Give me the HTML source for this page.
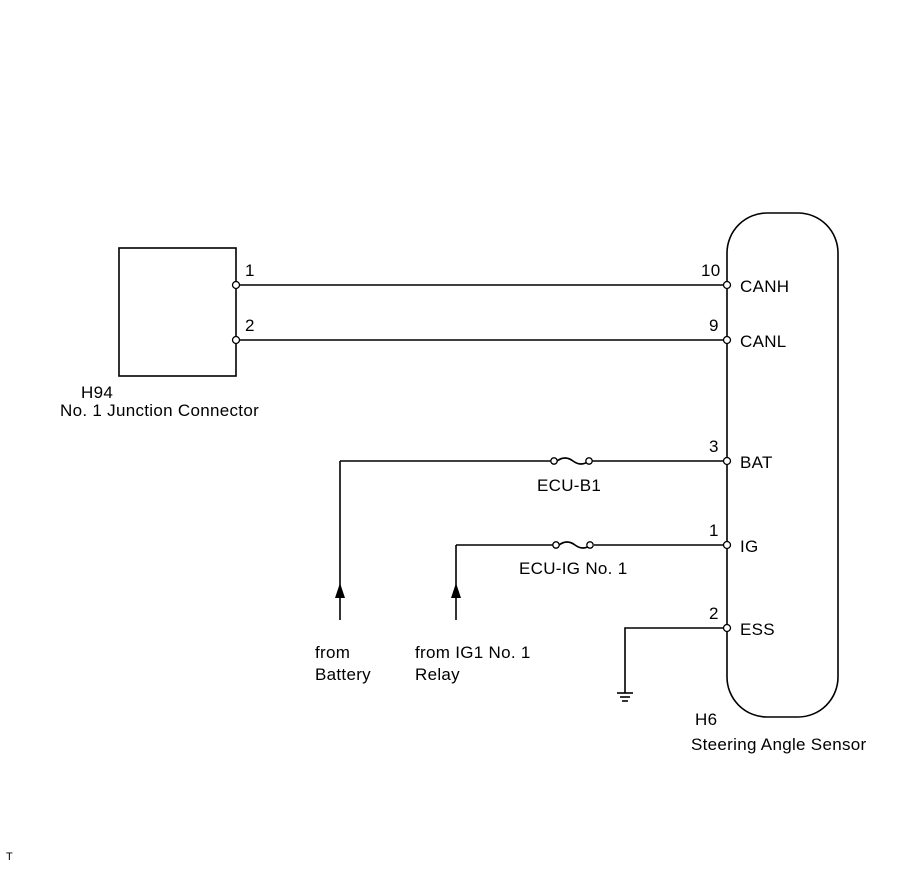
<!DOCTYPE html>
<html><head><style>
body{margin:0;background:#fff;}
svg text{font-family:"Liberation Sans",Arial,sans-serif;font-size:17px;letter-spacing:0.3px;fill:#000;}
</style></head><body>
<svg width="907" height="866" viewBox="0 0 907 866" xmlns="http://www.w3.org/2000/svg">
<g stroke="#000" stroke-width="1.6" fill="none">
<rect x="119" y="248" width="117" height="128"/>
<rect x="727" y="213" width="111" height="504" rx="40" ry="40"/>
<line x1="236" y1="285" x2="727" y2="285"/>
<line x1="236" y1="340" x2="727" y2="340"/>
<line x1="340" y1="461" x2="551" y2="461"/>
<line x1="592" y1="461" x2="727" y2="461"/>
<line x1="340" y1="461" x2="340" y2="620"/>
<path d="M557 461 q8 -6 16 0 t16 0"/>
<line x1="456" y1="545" x2="553" y2="545"/>
<line x1="594" y1="545" x2="727" y2="545"/>
<line x1="456" y1="545" x2="456" y2="620"/>
<path d="M559 545 q8 -6 16 0 t16 0"/>
<polyline points="727,628 625,628 625,693"/>
<line x1="617" y1="693" x2="633" y2="693"/>
<line x1="620" y1="697" x2="630" y2="697"/>
<line x1="622" y1="701" x2="628" y2="701"/>
</g>
<g fill="#000">
<polygon points="340,583 335,598 345,598"/>
<polygon points="456,583 451,598 461,598"/>
</g>
<g stroke="#000" stroke-width="1.3" fill="#fff">
<circle cx="236" cy="285" r="3.5"/><circle cx="236" cy="340" r="3.5"/>
<circle cx="727" cy="285" r="3.5"/><circle cx="727" cy="340" r="3.5"/>
<circle cx="727" cy="461" r="3.5"/><circle cx="727" cy="545" r="3.5"/>
<circle cx="727" cy="628" r="3.5"/>
<circle cx="554" cy="461" r="3.2"/><circle cx="589" cy="461" r="3.2"/>
<circle cx="556" cy="545" r="3.2"/><circle cx="590" cy="545" r="3.2"/>
</g>
<text x="245" y="276">1</text>
<text x="245" y="331">2</text>
<text x="81" y="398">H94</text>
<text x="60" y="416">No. 1 Junction Connector</text>
<text x="701" y="276">10</text>
<text x="709" y="331">9</text>
<text x="709" y="452">3</text>
<text x="709" y="536">1</text>
<text x="709" y="619">2</text>
<text x="740" y="292">CANH</text>
<text x="740" y="347">CANL</text>
<text x="740" y="468">BAT</text>
<text x="740" y="552">IG</text>
<text x="740" y="635">ESS</text>
<text x="537" y="491">ECU-B1</text>
<text x="519" y="574">ECU-IG No. 1</text>
<text x="315" y="658">from</text>
<text x="315" y="680">Battery</text>
<text x="415" y="658">from IG1 No. 1</text>
<text x="415" y="680">Relay</text>
<text x="695" y="725">H6</text>
<text x="691" y="750">Steering Angle Sensor</text>
<text x="6" y="860" style="font-size:11px">T</text>
</svg>
</body></html>
